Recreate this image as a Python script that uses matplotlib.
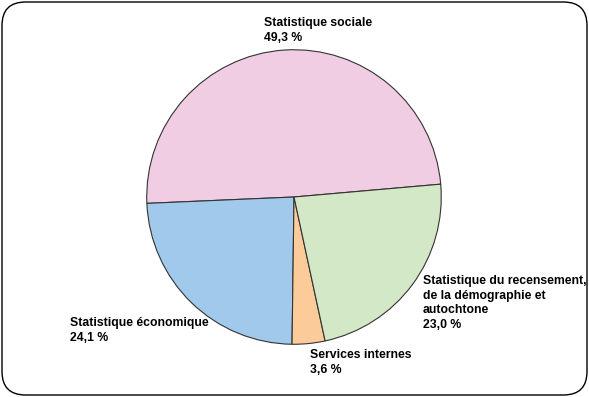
import matplotlib.pyplot as plt
from matplotlib.patches import FancyBboxPatch

labels = ["Statistique sociale", "Statistique économique", "Services internes",
          "Statistique du recensement,\nde la démographie et\nautochtone"]
values = [49.3, 24.1, 3.6, 23.0]
colors = ["#F0CDE3", "#A0C9EB", "#FBCB99", "#D3E8C6"]

# label anchor (top-left) in pixels from the top-left corner
label_px = [(264, 17), (70, 317), (310, 349), (423, 275)]

W, H = 589, 397
plt.rcParams['font.family'] = ['Liberation Sans', 'DejaVu Sans']
fig = plt.figure(figsize=(W / 100, H / 100), dpi=100)

# rounded frame around the whole picture, kept behind the pie
frame = FancyBboxPatch((2 / W, 2 / H), (W - 4) / W, (H - 4) / H,
                       boxstyle="round,pad=0,rounding_size=0.04",
                       transform=fig.transFigure, facecolor="white",
                       edgecolor="black", linewidth=1.0, mutation_aspect=W / H,
                       zorder=-1)
fig.patches.append(frame)

cx, cy, r = 294, 197, 148
ax = fig.add_axes([(cx - r) / W, (H - cy - r) / H, 2 * r / W, 2 * r / H])
ax.pie(values, colors=colors, startangle=5, counterclock=True,
       wedgeprops=dict(edgecolor="#333333", linewidth=0.8))
ax.set_xlim(-1.005, 1.005)
ax.set_ylim(-1.005, 1.005)
ax.set_aspect("equal")
ax.axis("off")

for lab, val, (px, py) in zip(labels, values, label_px):
    txt = lab + "\n" + f"{val:.1f}".replace(".", ",") + " %"
    fig.text(px / W, 1 - py / H, txt, ha="left", va="top", fontsize=8.8,
             fontweight="bold", linespacing=1.3)

fig.savefig("out.png", dpi=100)
